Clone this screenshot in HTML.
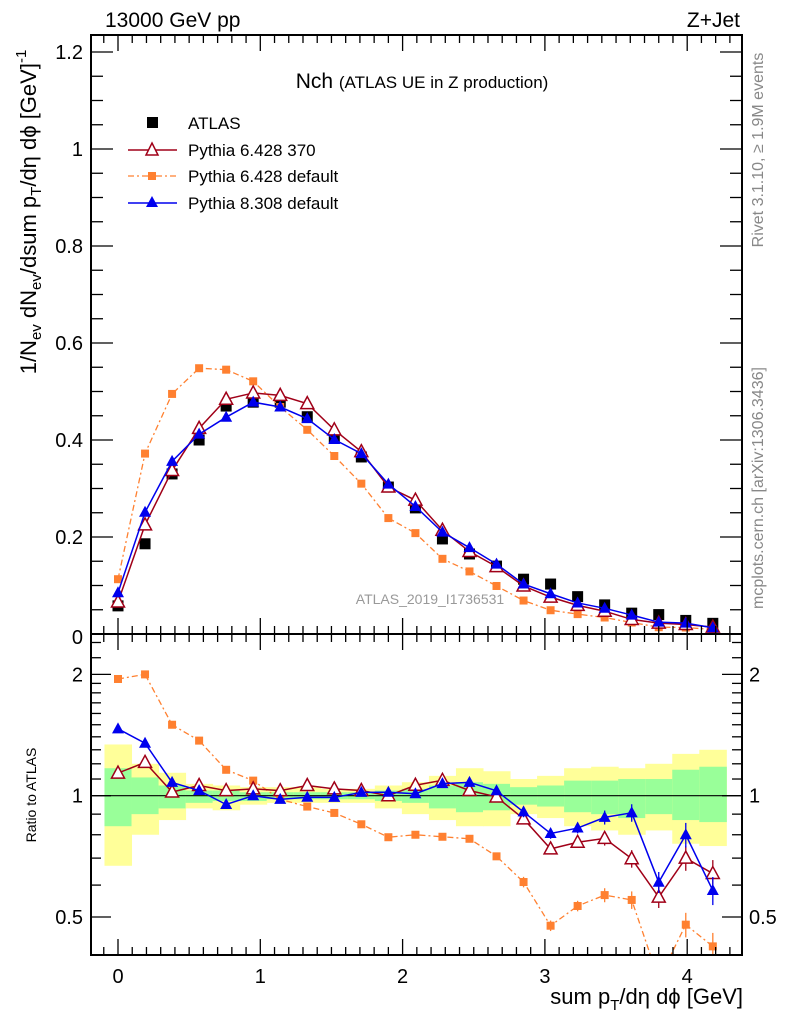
<!DOCTYPE html>
<html><head><meta charset="utf-8"><style>
body{margin:0;background:#fff;}
svg{display:block;font-family:"Liberation Sans",sans-serif;}
</style></head><body>
<svg id="chart" width="786" height="1024" viewBox="0 0 786 1024" xmlns="http://www.w3.org/2000/svg">
<g id="bands"></g>
<g id="marks"></g>
<g id="axes"></g>
<text x="105" y="27" font-size="21">13000 GeV pp</text>
<text x="740" y="27" font-size="21" text-anchor="end">Z+Jet</text>
<text x="422" y="88" font-size="21" text-anchor="middle">Nch <tspan font-size="17">(ATLAS UE in Z production)</tspan></text>
<text x="430" y="604" font-size="14" fill="#999" text-anchor="middle">ATLAS_2019_I1736531</text>
<text transform="translate(763,150) rotate(-90)" font-size="16" fill="#888" text-anchor="middle">Rivet 3.1.10, ≥ 1.9M events</text>
<text transform="translate(763,488) rotate(-90)" font-size="16" fill="#888" text-anchor="middle">mcplots.cern.ch [arXiv:1306.3436]</text>
<text transform="translate(36,212) rotate(-90)" font-size="22" text-anchor="middle">1/N<tspan font-size="15" dy="5">ev</tspan><tspan dy="-5"> dN</tspan><tspan font-size="15" dy="5">ev</tspan><tspan dy="-5">/dsum p</tspan><tspan font-size="15" dy="5">T</tspan><tspan dy="-5">/dη dϕ  [GeV]</tspan><tspan font-size="15" dy="-10">-1</tspan></text>
<text transform="translate(36,795) rotate(-90)" font-size="14" text-anchor="middle">Ratio to ATLAS</text>
<text x="743" y="1004" font-size="22" text-anchor="end">sum p<tspan font-size="15" dy="6">T</tspan><tspan dy="-6">/dη dϕ [GeV]</tspan></text>
<g>
<rect x="147" y="117" width="11" height="11" fill="#000"/>
<text x="188" y="129" font-size="17">ATLAS</text>
<line x1="128" y1="150" x2="177" y2="150" stroke="#a00018" stroke-width="1.5"/>
<path d="M152,143 L158,155 L146,155 Z" fill="#fff" stroke="#a00018" stroke-width="1.5"/>
<text x="188" y="156" font-size="17">Pythia 6.428 370</text>
<line x1="128" y1="176" x2="177" y2="176" stroke="#ff8030" stroke-width="1.3" stroke-dasharray="6,3,2,3"/>
<rect x="148" y="172" width="8" height="8" fill="#ff8030"/>
<text x="188" y="182" font-size="17">Pythia 6.428 default</text>
<line x1="128" y1="203" x2="177" y2="203" stroke="#0000ee" stroke-width="1.5"/>
<path d="M152,196 L158,207 L146,207 Z" fill="#0000ee"/>
<text x="188" y="209" font-size="17">Pythia 8.308 default</text>
</g>
</svg>
<script>
const xVals=[0,0.19,0.38,0.57,0.76,0.95,1.14,1.33,1.52,1.71,1.9,2.09,2.28,2.47,2.66,2.85,3.04,3.23,3.42,3.61,3.8,3.99,4.18];
const atlas=[0.058,0.186,0.33,0.40,0.47,0.478,0.478,0.448,0.405,0.365,0.303,0.26,0.196,0.165,0.14,0.113,0.103,0.077,0.06,0.043,0.04,0.028,0.022];
const p6_370=[0.066,0.225,0.337,0.424,0.484,0.497,0.492,0.475,0.421,0.376,0.303,0.276,0.214,0.170,0.139,0.099,0.076,0.059,0.047,0.030,0.0224,0.0196,0.0141];
const p6_def=[0.113,0.372,0.495,0.548,0.545,0.521,0.468,0.421,0.367,0.310,0.239,0.208,0.155,0.129,0.099,0.069,0.049,0.041,0.034,0.0237,0.014,0.0134,0.0093];
const p8_def=[0.085,0.251,0.356,0.412,0.447,0.478,0.468,0.444,0.401,0.372,0.309,0.263,0.210,0.178,0.144,0.103,0.083,0.064,0.053,0.039,0.0244,0.0224,0.0128];
const relErr=[0.02,0.02,0.01,0.01,0.01,0.01,0.01,0.01,0.01,0.01,0.01,0.01,0.01,0.015,0.02,0.03,0.03,0.03,0.04,0.05,0.06,0.07,0.08];
const yelHi=[1.34,1.20,1.14,1.07,1.06,1.05,1.05,1.05,1.04,1.04,1.06,1.08,1.12,1.17,1.15,1.10,1.12,1.17,1.18,1.17,1.20,1.27,1.30];
const yelLo=[0.67,0.80,0.87,0.93,0.92,0.95,0.96,0.96,0.96,0.96,0.93,0.90,0.87,0.84,0.84,0.90,0.88,0.84,0.82,0.80,0.82,0.76,0.75];
const grnHi=[1.17,1.11,1.06,1.03,1.03,1.02,1.02,1.02,1.02,1.02,1.03,1.04,1.06,1.08,1.07,1.05,1.06,1.09,1.09,1.10,1.10,1.16,1.18];
const grnLo=[0.84,0.90,0.93,0.96,0.97,0.97,0.98,0.98,0.98,0.98,0.97,0.96,0.93,0.91,0.92,0.95,0.94,0.91,0.90,0.88,0.90,0.87,0.86];
const mainTicks=[0,0.2,0.4,0.6,0.8,1,1.2];
const mainTickLabels=["0","0.2","0.4","0.6","0.8","1","1.2"];
const xTicks=[0,1,2,3,4];
const xTickLabels=["0","1","2","3","4"];
const ratioTicks=[0.5,1,2];
const ratioTickLabels=["0.5","1","2"];

const NS="http://www.w3.org/2000/svg";
const L=91,R=742,T=35,MB=634,RB=955;
const X=v=>118+v*142.3;
const Y=v=>634-v*485;
const RY=v=>795.7-121.3*Math.log2(v);
const halfW=0.095;
function mk(tag,attrs,parent){const e=document.createElementNS(NS,tag);for(const k in attrs)e.setAttribute(k,attrs[k]);parent.appendChild(e);return e;}
const bands=document.getElementById('bands'),marks=document.getElementById('marks'),axes=document.getElementById('axes');

const defs=mk('defs',{},document.getElementById('chart'));
const c1=mk('clipPath',{id:'cm'},defs);mk('rect',{x:L,y:T,width:R-L,height:MB-T},c1);
const c2=mk('clipPath',{id:'cr'},defs);mk('rect',{x:L,y:MB,width:R-L,height:RB-MB},c2);
bands.setAttribute('clip-path','url(#cr)');

xVals.forEach((x,i)=>{
  const y=mk('rect',{x:X(x-halfW),y:RY(yelHi[i]),width:X(x+halfW)-X(x-halfW)+0.5,height:RY(yelLo[i])-RY(yelHi[i]),fill:'#ffff99'},bands);
  
  
  const g=mk('rect',{x:X(x-halfW),y:RY(grnHi[i]),width:X(x+halfW)-X(x-halfW)+0.5,height:RY(grnLo[i])-RY(grnHi[i]),fill:'#99ff99'},bands);
  
  
});
const one=mk('line',{x1:L,x2:R,y1:RY(1),y2:RY(1),stroke:'#000','stroke-width':1.2},bands);



const series=[
 {name:'p6-default',vals:p6_def,color:'#ff8030',dash:'6,3,2,3',mark:'sq',w:1.3},
 {name:'p6-370',vals:p6_370,color:'#a00018',dash:null,mark:'otri',w:1.5},
 {name:'p8-default',vals:p8_def,color:'#0000ee',dash:null,mark:'tri',w:1.5}
];
function marker(kind,cx,cy,color,parent,name){
  let e;
  if(kind==='sq') e=mk('rect',{x:cx-4,y:cy-4,width:8,height:8,fill:color},parent);
  else if(kind==='bsq') e=mk('rect',{x:cx-5.5,y:cy-5.5,width:11,height:11,fill:'#000'},parent);
  else if(kind==='tri') e=mk('path',{d:`M${cx},${cy-6.5} L${cx+6},${cy+4.5} L${cx-6},${cy+4.5} Z`,fill:color},parent);
  else e=mk('path',{d:`M${cx},${cy-7} L${cx+6.5},${cy+5} L${cx-6.5},${cy+5} Z`,fill:'#fff',stroke:color,'stroke-width':1.5},parent);
  
  
}
const gm=mk('g',{'clip-path':'url(#cm)'},marks);
const gr=mk('g',{'clip-path':'url(#cr)'},marks);
atlas.forEach((v,i)=>marker('bsq',X(xVals[i]),Y(v),'#000',gm,'atlas-point'));
series.forEach(s=>{
  const pm=s.vals.map((v,i)=>`${X(xVals[i])},${Y(v)}`).join(' ');
  const l1=mk('polyline',{points:pm,fill:'none',stroke:s.color,'stroke-width':s.w},gm);
  if(s.dash)l1.setAttribute('stroke-dasharray',s.dash);
  
  
  s.vals.forEach((v,i)=>marker(s.mark,X(xVals[i]),Y(v),s.color,gm,s.name+'-point'));
  const ratios=s.vals.map((v,i)=>v/atlas[i]);
  const pr=ratios.map((r,i)=>`${X(xVals[i])},${RY(r)}`).join(' ');
  const l2=mk('polyline',{points:pr,fill:'none',stroke:s.color,'stroke-width':s.w},gr);
  if(s.dash)l2.setAttribute('stroke-dasharray',s.dash);
  
  
  ratios.forEach((r,i)=>{
    const cx=X(xVals[i]),e=r*relErr[i];
    const eb=mk('line',{x1:cx,x2:cx,y1:RY(r+e),y2:RY(Math.max(r-e,0.01)),stroke:s.color,'stroke-width':1.3},gr);
    
    
    marker(s.mark,cx,RY(r),s.color,gr,s.name+'-ratio-point');
  });
});

function tick(x1,y1,x2,y2){const t=mk('line',{x1,y1,x2,y2,stroke:'#000','stroke-width':1.3},axes);return t;}
const f1=mk('rect',{x:L,y:T,width:R-L,height:MB-T,fill:'none',stroke:'#000','stroke-width':2},axes);

const f2=mk('rect',{x:L,y:MB,width:R-L,height:RB-MB,fill:'none',stroke:'#000','stroke-width':2},axes);

for(let k=-1;k<=43;k++){const v=k/10;const x=X(v);if(x<L+1||x>R-1)continue;const maj=k%10===0;const len=maj?16:8;
  [T,MB].forEach(y0=>{tick(x,y0,x,y0+len);});
  [MB,RB].forEach(y0=>{tick(x,y0,x,y0-len);});
}
xTicks.forEach((v,i)=>{const t=mk('text',{x:X(v),y:983,'font-size':20,'text-anchor':'middle'},axes);t.textContent=xTickLabels[i];
 });
for(let k=0;k<=24;k++){const v=k*0.05;const y=Y(v);if(y<T)continue;const maj=k%4===0;const len=maj?22:12;
 tick(L,y,L+len,y);tick(R,y,R-len,y);}
mainTicks.forEach((v,i)=>{if(v===0)return;const t=mk('text',{x:83,y:Y(v)+7,'font-size':20,'text-anchor':'end'},axes);t.textContent=mainTickLabels[i];
 });
const z=mk('text',{x:83,y:644,'font-size':20,'text-anchor':'end'},axes);z.textContent=mainTickLabels[0];

const minor=[0.4,0.6,0.7,0.8,0.9,1.1,1.2,1.3,1.4,1.5,1.6,1.7,1.8,1.9,2.2,2.4];
minor.forEach(v=>{const y=RY(v);if(y<MB||y>RB)return;tick(L,y,L+10,y);tick(R,y,R-10,y);});
ratioTicks.forEach((v,i)=>{const y=RY(v);tick(L,y,L+20,y);tick(R,y,R-20,y);
 const t=mk('text',{x:83,y:y+7,'font-size':20,'text-anchor':'end'},axes);t.textContent=ratioTickLabels[i];
 
 const t2=mk('text',{x:749,y:y+7,'font-size':20},axes);t2.textContent=ratioTickLabels[i];
 });
</script>
</body></html>
